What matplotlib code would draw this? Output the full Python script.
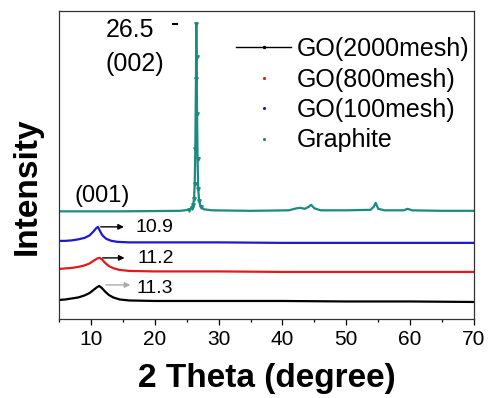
import matplotlib
matplotlib.use("Agg")
import matplotlib.pyplot as plt
from matplotlib.lines import Line2D

plt.rcParams["font.family"] = ["Liberation Sans", "DejaVu Sans"]

# 2 theta (deg) / intensity (a.u., stacked)
x_2000 = [5, 6, 7, 8, 9, 9.8, 10.4, 10.9, 11.3, 11.7, 12.2, 12.8, 13.5, 14.5, 16, 20, 30, 40, 50, 60, 70]
y_2000 = [19, 19.5, 20.5, 21.5, 23.5, 26, 29, 31.5, 33, 31, 27.5, 24, 21.5, 19.5, 18.5, 18, 18, 18, 17.5, 17.5, 17]

x_800 = [5, 6, 7, 8, 9, 9.8, 10.5, 11.0, 11.4, 11.8, 12.3, 12.9, 13.6, 14.5, 16, 20, 30, 40, 50, 60, 70]
y_800 = [50, 50.5, 51, 52, 53.5, 55.5, 58.5, 60.5, 61, 59, 55.5, 52.5, 50.5, 49, 48, 47.5, 47.5, 47, 47, 47, 47]

x_100 = [5, 6, 7, 8, 9, 9.8, 10.4, 10.8, 11.1, 11.4, 11.8, 12.4, 13.2, 14.2, 16, 20, 30, 40, 50, 60, 70]
y_100 = [78, 78, 78.5, 79.5, 81, 83.5, 87.5, 90.5, 92, 88, 83.5, 80, 78, 77, 76.5, 76.5, 76.5, 76, 76, 76, 76]

x_gr = [5, 15, 24, 25.3, 25.8, 26.0, 26.15, 26.25, 26.35, 26.45, 26.5, 26.55, 26.62, 26.7, 26.8,
        26.95, 27.2, 27.7, 29, 35, 41, 42.2, 42.8, 43.5, 44.1, 44.5, 45.0, 46, 50, 53.8, 54.3,
        54.6, 55.0, 56, 59, 59.6, 60.3, 65, 70]
y_gr = [107.5, 107.5, 108, 109, 111, 114, 120, 135, 170, 240, 295, 262, 205, 160, 130,
        118, 112, 109.5, 108.5, 108, 108.5, 110.5, 111, 110, 112, 114, 110.5, 108.5, 108.5, 109, 112,
        116, 110, 108.5, 108.5, 110, 108.5, 108, 108]
gr_peak_marks = list(range(3, 17))

names = ["GO(2000mesh)", "GO(800mesh)", "GO(100mesh)", "Graphite"]
colors = ["black", "#e31a1c", "#1a1ad6", "#1b8a80"]

fig = plt.figure(figsize=(4.89, 3.98), dpi=100)
ax = fig.add_axes([0.1207, 0.1985, 0.8486, 0.7751])

ax.plot(x_2000, y_2000, color=colors[0], lw=1.6)
ax.plot(x_800, y_800, color=colors[1], lw=1.6)
ax.plot(x_100, y_100, color=colors[2], lw=1.6)
ax.plot(x_gr, y_gr, color=colors[3], lw=1.6, marker="v", markersize=2.5,
        markevery=gr_peak_marks)

ax.set_xlim(5, 70)
ax.set_ylim(0, 308)
ax.set_yticks([])
ax.set_xticks(range(10, 71, 10))
ax.set_xticks(range(5, 71, 10), minor=True)
ax.tick_params(axis="x", which="major", direction="out", length=4, width=0.9, labelsize=15, pad=4)
ax.tick_params(axis="x", which="minor", direction="out", length=2, width=0.9)
for s in ax.spines.values():
    s.set_linewidth(0.9)
    s.set_color("#333333")

ax.set_xlabel("2 Theta (degree)", fontsize=24, fontweight="bold", labelpad=10)
ax.set_ylabel("Intensity", fontsize=24, fontweight="bold")
ax.yaxis.set_label_coords(-0.04, 0.43)

# peak labels
arrow = dict(arrowstyle="-|>", color="black", lw=1.0, mutation_scale=8)
ax.annotate("", xy=(15.6, 92), xytext=(11.1, 92), arrowprops=arrow)
ax.text(20.0, 91, "10.9", fontsize=14, ha="center", va="center")
ax.annotate("", xy=(15.7, 61), xytext=(11.4, 61), arrowprops=arrow)
ax.text(20.1, 60, "11.2", fontsize=14, ha="center", va="center")
ax.annotate("", xy=(16.6, 34), xytext=(11.9, 34),
            arrowprops=dict(arrowstyle="-|>", color="#aaaaaa", lw=1.0, mutation_scale=8))
ax.text(20.0, 30, "11.3", fontsize=14, ha="center", va="center")
ax.plot([22.9, 23.5], [295, 295], color="black", lw=1.5)
ax.text(16.1, 289, "26.5", fontsize=18, ha="center", va="center")
ax.text(16.8, 255, "(002)", fontsize=18, ha="center", va="center")
ax.text(11.7, 123, "(001)", fontsize=17, ha="center", va="center")

handles = [Line2D([], [], color=colors[0], lw=1.0, marker=".", markersize=3)]
handles += [Line2D([], [], color=c, ls="none", marker=".", markersize=2.5) for c in colors[1:]]
ax.legend(handles, names, loc="upper left", bbox_to_anchor=(236 / 489, 1 - 37 / 398),
          bbox_transform=fig.transFigure, frameon=False, fontsize=18,
          handlelength=2.2, handletextpad=0.25, labelspacing=0.26, borderpad=0, borderaxespad=0)

fig.savefig("out.png", dpi=100)
